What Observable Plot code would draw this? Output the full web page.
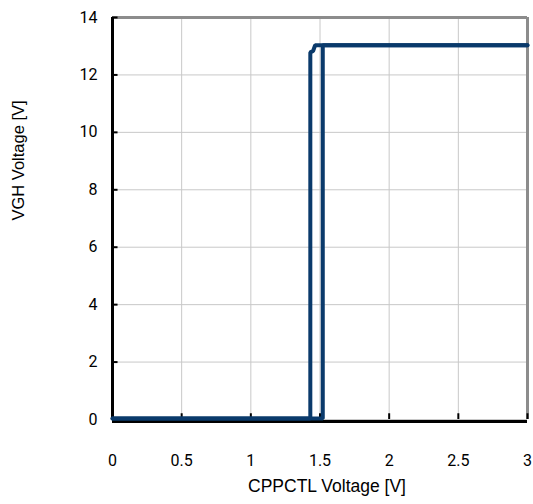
<!DOCTYPE html>
<html>
<head>
<meta charset="utf-8">
<script src="https://cdn.jsdelivr.net/npm/d3@7"></script>
<script src="https://cdn.jsdelivr.net/npm/@observablehq/plot@0.6"></script>
<style>
  html, body { margin: 0; padding: 0; background: #fff; }
</style>
</head>
<body>
<div id="chart"></div>
<script>
// Data
const riseX = [0, 1.52, 1.52, 3];
const riseY = [0, 0, 13, 13];
const fallX = [0, 1.43, 1.43, 1.45, 1.465, 3];
const fallY = [0, 0, 12.75, 12.8, 13, 13];
const xTicks = [0, 0.5, 1, 1.5, 2, 2.5, 3];
const xTickLabels = ["0", "0.5", "1", "1.5", "2", "2.5", "3"];
const yTicks = [0, 2, 4, 6, 8, 10, 12, 14];
const xTitle = "CPPCTL Voltage [V]";
const yTitle = "VGH Voltage [V]";

const lineData = [
  ...riseX.map((x, i) => ({series: "rise", x, y: riseY[i]})),
  ...fallX.map((x, i) => ({series: "fall", x, y: fallY[i]}))
];

const tickFont = "Roboto, sans-serif";
const titleFont = "'Liberation Sans', Arial, sans-serif";
const navy = "#0a3a6b";

const chart = Plot.plot({
  width: 533,
  height: 504,
  marginLeft: 112,
  marginRight: 6,
  marginTop: 17,
  marginBottom: 85,
  x: {type: "linear", domain: [0, 3]},
  y: {type: "linear", domain: [0, 14]},
  style: {background: "#fff", overflow: "visible"},
  marks: [
    Plot.gridX(xTicks, {stroke: "#c8c8c8", strokeOpacity: 1, strokeWidth: 1}),
    Plot.gridY(yTicks, {stroke: "#c8c8c8", strokeOpacity: 1, strokeWidth: 1}),
    // top and right borders (gray)
    Plot.ruleY([14], {stroke: "#8c8c8c", strokeWidth: 3}),
    Plot.ruleX([3], {stroke: "#8c8c8c", strokeWidth: 3}),
    // left and bottom axis lines (black)
    Plot.ruleX([0], {stroke: "#000", strokeWidth: 3}),
    Plot.ruleY([0], {stroke: "#000", strokeWidth: 3, dy: 2}),
    // inward ticks
    Plot.ruleY(yTicks, {x1: 0, x2: 0.04, stroke: "#000", strokeWidth: 2}),
    Plot.ruleX(xTicks, {y1: 0, y2: 0.2, stroke: "#000", strokeWidth: 2}),
    Plot.line(lineData, {x: "x", y: "y", z: "series", stroke: navy, strokeWidth: 4, strokeLinejoin: "miter", dy: -1}),
    Plot.axisX(xTicks, {tickSize: 0, tickPadding: 35, tickFormat: (d, i) => xTickLabels[i], label: null, fontSize: 16, fontWeight: 400, fontFamily: tickFont}),
    Plot.axisY(yTicks, {tickSize: 0, tickPadding: 15, label: null, fontSize: 16, fontWeight: 400, fontFamily: tickFont}),
    Plot.text([xTitle], {frameAnchor: "bottom", dx: 7, dy: 72, fontSize: 17.5, fontFamily: titleFont, fill: "#000"}),
    Plot.text([yTitle], {frameAnchor: "left", dx: -94, dy: 2, rotate: -90, fontSize: 16.5, fontFamily: titleFont, fill: "#000"})
  ]
});
document.getElementById("chart").appendChild(chart);
</script>
</body>
</html>
